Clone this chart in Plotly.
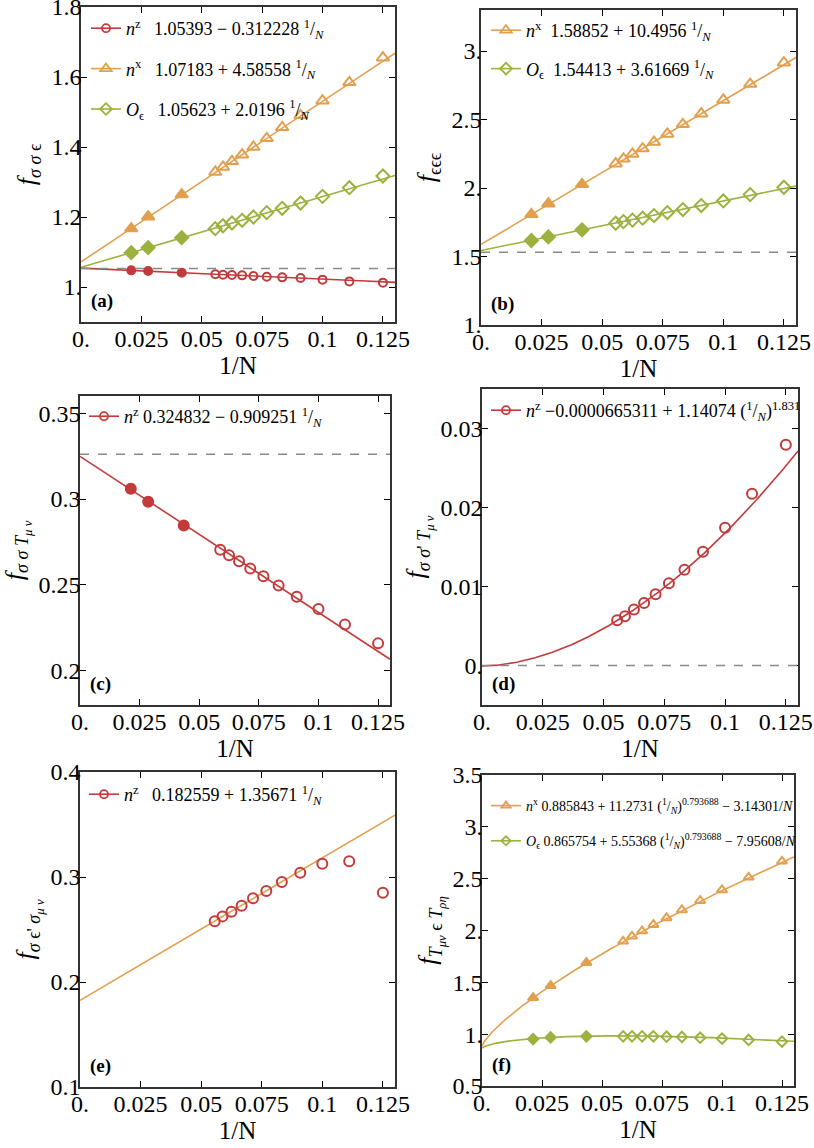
import numpy as np
import plotly.graph_objects as go

RED = "#c23b3c"
ORANGE = "#e2a04f"
GREEN = "#9bb23f"
FONT = "Liberation Serif, Times New Roman, Times, serif"

# 1/N positions
x_big = [0.0208, 0.0278, 0.0417]
x_small = [0.0556, 0.0588, 0.0625, 0.0667, 0.0714, 0.0769, 0.0833, 0.0909, 0.1, 0.1111, 0.125]
x_big_cf = [0.0213, 0.0286, 0.0435]
x_small_cf = [0.0588, 0.0625, 0.0667, 0.0714, 0.0769, 0.0833, 0.0909, 0.1, 0.1111, 0.125]

# (a) f_{sigma sigma eps}
a_nz_big = [1.0476, 1.0457, 1.041]
a_nz_small = [1.0362, 1.0352, 1.0343, 1.0333, 1.0314, 1.0295, 1.0276, 1.0257, 1.021, 1.016, 1.0124]
a_nx_big = [1.167, 1.201, 1.264]
a_nx_small = [1.3286, 1.3429, 1.359, 1.378, 1.4, 1.4248, 1.4562, 1.4905, 1.5324, 1.5848, 1.6552]
a_eps_big = [1.0981, 1.1124, 1.141]
a_eps_small = [1.1667, 1.175, 1.1829, 1.1905, 1.2, 1.2124, 1.2248, 1.24, 1.259, 1.2838, 1.3171]
a_fit_nz = [1.05393, -0.312228]
a_fit_nx = [1.07183, 4.58558]
a_fit_eps = [1.05623, 2.0196]
a_ref = 1.053

# (b) f_{eps eps eps}
b_nx_big = [1.808, 1.886, 2.027]
b_nx_small = [2.178, 2.213, 2.249, 2.288, 2.336, 2.395, 2.465, 2.543, 2.643, 2.759, 2.915]
b_eps_big = [1.617, 1.643, 1.695]
b_eps_small = [1.743, 1.755, 1.766, 1.78, 1.799, 1.821, 1.843, 1.872, 1.906, 1.952, 2.006]
b_fit_nx = [1.58852, 10.4956]
b_fit_eps = [1.54413, 3.61669]
b_ref = 1.532

# (c) f_{sigma sigma T}
c_nz_big = [0.306, 0.2984, 0.2845]
c_nz_small = [0.2705, 0.2672, 0.2638, 0.2595, 0.255, 0.2496, 0.243, 0.2359, 0.2269, 0.2159]
c_fit_nz = [0.324832, -0.909251]
c_ref = 0.326

# (d) f_{sigma sigma' T}
d_nz_small = [0.00573, 0.00624, 0.00708, 0.00792, 0.00902, 0.01041, 0.01213, 0.01441, 0.01744, 0.02174, 0.02794]
d_fit_nz = [-0.0000665311, 1.14074, 1.831]
d_ref = 0.0

# (e) f_{sigma eps' sigma}
e_nz_small = [0.2578, 0.2625, 0.267, 0.2727, 0.2797, 0.2867, 0.2952, 0.3041, 0.3127, 0.3149, 0.2851]
e_fit_nz = [0.182559, 1.35671]

# (f) f_{T eps T}
f_nx_big = [1.352, 1.468, 1.69]
f_nx_small = [1.896, 1.944, 1.995, 2.056, 2.121, 2.198, 2.288, 2.391, 2.513, 2.667]
f_eps_big = [0.953, 0.969, 0.979]
f_eps_small = [0.979, 0.979, 0.979, 0.979, 0.976, 0.973, 0.966, 0.957, 0.944, 0.928]
f_fit_nx = [0.885843, 11.2731, 0.793688, -3.14301]
f_fit_eps = [0.865754, 5.55368, 0.793688, -7.95608]

x_ticks = [0, 0.025, 0.05, 0.075, 0.1, 0.125]
x_ticktext = ["0.", "0.025", "0.05", "0.075", "0.1", "0.125"]
y_ticks = {
    1: ([1.0, 1.2, 1.4, 1.6, 1.8], ["1.", "1.2", "1.4", "1.6", "1.8"]),
    2: ([1.0, 1.5, 2.0, 2.5, 3.0], ["1.", "1.5", "2.", "2.5", "3."]),
    3: ([0.2, 0.25, 0.3, 0.35], ["0.2", "0.25", "0.3", "0.35"]),
    4: ([0.0, 0.01, 0.02, 0.03], ["0.", "0.01", "0.02", "0.03"]),
    5: ([0.1, 0.2, 0.3, 0.4], ["0.1", "0.2", "0.3", "0.4"]),
    6: ([0.5, 1.0, 1.5, 2.0, 2.5, 3.0, 3.5], ["0.5", "1.", "1.5", "2.", "2.5", "3.", "3.5"]),
}
y_ranges = {1: [0.9, 1.8], 2: [1.0, 3.3], 3: [0.18, 0.36], 4: [-0.005, 0.035], 5: [0.1, 0.4], 6: [0.5, 3.5]}
y_titles = {
    1: "<i>f</i><sub><i>σ σ</i> ϵ</sub>",
    2: "<i>f</i><sub>ϵϵϵ</sub>",
    3: "<i>f</i><sub><i>σ σ T</i><sub><i>μ ν</i></sub></sub>",
    4: "<i>f</i><sub><i>σ σ</i>' <i>T</i><sub><i>μ ν</i></sub></sub>",
    5: "<i>f</i><sub><i>σ</i> ϵ' <i>σ</i><sub><i>μ ν</i></sub></sub>",
    6: "<i>f</i><sub><i>T</i><sub><i>μν</i></sub> ϵ <i>T</i><sub><i>ρη</i></sub></sub>",
}
panel_tags = ["(a)", "(b)", "(c)", "(d)", "(e)", "(f)"]

# domains in paper fractions (W=814, H=1148)
W, H = 814, 1148
xdom = {1: (81, 395), 2: (481, 796), 3: (80, 390), 4: (482, 798), 5: (80, 395), 6: (482, 794)}
ydom = {1: (7, 322), 2: (10, 325), 3: (396, 705), 4: (389, 705), 5: (772, 1087), 6: (775, 1086)}

xf = np.linspace(0, 0.13, 400)

FRAC = "<sup>1</sup>/<sub><i>N</i></sub>"
SP = "\u00a0"

fig = go.Figure()


def ax(k):
    return ("x" if k == 1 else f"x{k}"), ("y" if k == 1 else f"y{k}")


def add_points(k, xs, ys, color, symbol, filled, size, lw=2):
    xa, ya = ax(k)
    fig.add_trace(go.Scatter(
        x=xs, y=ys, xaxis=xa, yaxis=ya, mode="markers", showlegend=False,
        marker=dict(symbol=symbol if filled else symbol + "-open", size=size, color=color,
                    line=dict(color=color, width=lw)),
        hoverinfo="skip"))


def add_fit(k, ys, color):
    xa, ya = ax(k)
    fig.add_trace(go.Scatter(x=xf, y=ys, xaxis=xa, yaxis=ya, mode="lines", showlegend=False,
                             line=dict(color=color, width=1.6), hoverinfo="skip"))


def add_key(k, name, color, symbol, size, group):
    xa, ya = ax(k)
    fig.add_trace(go.Scatter(
        x=[None], y=[None], xaxis=xa, yaxis=ya, mode="lines+markers", name=name,
        legend="legend" if k == 1 else f"legend{k}", legendgroup=group,
        line=dict(color=color, width=1.6),
        marker=dict(symbol=symbol + "-open", size=size, color=color, line=dict(color=color, width=1.8))))


# (a)
add_fit(1, a_fit_nz[0] + a_fit_nz[1] * xf, RED)
add_fit(1, a_fit_nx[0] + a_fit_nx[1] * xf, ORANGE)
add_fit(1, a_fit_eps[0] + a_fit_eps[1] * xf, GREEN)
add_points(1, x_big, a_nz_big, RED, "circle", True, 8)
add_points(1, x_small, a_nz_small, RED, "circle", False, 8)
add_points(1, x_big, a_nx_big, ORANGE, "triangle-up", True, 11)
add_points(1, x_small, a_nx_small, ORANGE, "triangle-up", False, 11)
add_points(1, x_big, a_eps_big, GREEN, "diamond", True, 10)
add_points(1, x_small, a_eps_small, GREEN, "diamond", False, 10)
add_key(1, "<i>n</i><sup>z</sup>" + SP * 3 + "1.05393 − 0.312228 " + FRAC, RED, "circle", 8, "a1")
add_key(1, "<i>n</i><sup>x</sup>" + SP * 3 + "1.07183 + 4.58558 " + FRAC, ORANGE, "triangle-up", 10, "a2")
add_key(1, "<i>O</i><sub>ϵ</sub>" + SP * 3 + "1.05623 + 2.0196 " + FRAC, GREEN, "diamond", 9, "a3")

# (b)
add_fit(2, b_fit_nx[0] + b_fit_nx[1] * xf, ORANGE)
add_fit(2, b_fit_eps[0] + b_fit_eps[1] * xf, GREEN)
add_points(2, x_big, b_nx_big, ORANGE, "triangle-up", True, 11)
add_points(2, x_small, b_nx_small, ORANGE, "triangle-up", False, 11)
add_points(2, x_big, b_eps_big, GREEN, "diamond", True, 10)
add_points(2, x_small, b_eps_small, GREEN, "diamond", False, 10)
add_key(2, "<i>n</i><sup>x</sup>" + SP * 2 + "1.58852 + 10.4956 " + FRAC, ORANGE, "triangle-up", 10, "b1")
add_key(2, "<i>O</i><sub>ϵ</sub>" + SP * 2 + "1.54413 + 3.61669 " + FRAC, GREEN, "diamond", 9, "b2")

# (c)
add_fit(3, c_fit_nz[0] + c_fit_nz[1] * xf, RED)
add_points(3, x_big_cf, c_nz_big, RED, "circle", True, 10)
add_points(3, x_small_cf, c_nz_small, RED, "circle", False, 10)
add_key(3, "<i>n</i><sup>z</sup>" + SP + "0.324832 − 0.909251 " + FRAC, RED, "circle", 8, "c1")

# (d)
add_fit(4, d_fit_nz[0] + d_fit_nz[1] * xf ** d_fit_nz[2], RED)
add_points(4, x_small, d_nz_small, RED, "circle", False, 10)
add_key(4, "<i>n</i><sup>z</sup> −0.0000665311 + 1.14074 (" + FRAC + ")<sup>1.831</sup>", RED, "circle", 8, "d1")

# (e)
add_fit(5, e_fit_nz[0] + e_fit_nz[1] * xf, ORANGE)
add_points(5, x_small, e_nz_small, RED, "circle", False, 10)
add_key(5, "<i>n</i><sup>z</sup>" + SP * 3 + "0.182559 + 1.35671 " + FRAC, RED, "circle", 8, "e1")

# (f)
add_fit(6, f_fit_nx[0] + f_fit_nx[1] * xf ** f_fit_nx[2] + f_fit_nx[3] * xf, ORANGE)
add_fit(6, f_fit_eps[0] + f_fit_eps[1] * xf ** f_fit_eps[2] + f_fit_eps[3] * xf, GREEN)
add_points(6, x_big_cf, f_nx_big, ORANGE, "triangle-up", True, 9)
add_points(6, x_small_cf, f_nx_small, ORANGE, "triangle-up", False, 9)
add_points(6, x_big_cf, f_eps_big, GREEN, "diamond", True, 8)
add_points(6, x_small_cf, f_eps_small, GREEN, "diamond", False, 8)
add_key(6, "<i>n</i><sup>x</sup> 0.885843 + 11.2731 (" + FRAC + ")<sup>0.793688</sup> − 3.14301/<i>N</i>",
        ORANGE, "triangle-up", 8, "f1")
add_key(6, "<i>O</i><sub>ϵ</sub> 0.865754 + 5.55368 (" + FRAC + ")<sup>0.793688</sup> − 7.95608/<i>N</i>",
        GREEN, "diamond", 7, "f2")

# reference dashed lines
for k, v in [(1, a_ref), (2, b_ref), (3, c_ref), (4, d_ref)]:
    xa, ya = ax(k)
    fig.add_shape(type="line", xref=f"{xa} domain", x0=0, x1=1, yref=ya, y0=v, y1=v,
                  line=dict(color="#8a8a8a", width=1.5, dash="dash"))

layout = dict(
    width=W, height=H, margin=dict(l=0, r=0, t=0, b=0, autoexpand=False),
    paper_bgcolor="white", plot_bgcolor="white",
    font=dict(family=FONT, color="black", size=24),
)

legend_pos = {1: (86, 10, 18, 14), 2: (486, 12, 18, 12), 3: (84, 398, 18, 0),
              4: (486, 392, 18, 0), 5: (84, 776, 18, 0), 6: (486, 790, 14, 14)}

for k in range(1, 7):
    xs = "" if k == 1 else str(k)
    x0, x1 = xdom[k]
    y0, y1 = ydom[k]
    layout[f"xaxis{xs}"] = dict(
        domain=[x0 / W, x1 / W], anchor=f"y{xs}", range=[0, 0.13], automargin=False,
        tickvals=x_ticks, ticktext=x_ticktext, ticks="inside", ticklen=6, tickwidth=1.3,
        tickcolor="black", showline=True, linecolor="#333", linewidth=1.5, mirror="ticks",
        showgrid=False, zeroline=False, tickfont=dict(size=24, family=FONT),
        ticklabeloverflow="allow", ticklabelstandoff=-6,
        title=dict(text="1/N", font=dict(size=25, family=FONT), standoff=2))
    yv, yt = y_ticks[k]
    layout[f"yaxis{xs}"] = dict(
        domain=[1 - y1 / H, 1 - y0 / H], anchor=f"x{xs}", range=y_ranges[k], automargin=False,
        tickvals=yv, ticktext=yt, ticks="inside", ticklen=6, tickwidth=1.3,
        tickcolor="black", showline=True, linecolor="#333", linewidth=1.5, mirror="ticks",
        showgrid=False, zeroline=False, tickfont=dict(size=24, family=FONT),
        ticklabeloverflow="allow", ticklabelstandoff=-7,
        title=dict(text=y_titles[k], font=dict(size=26, family=FONT), standoff=8))
    lx, ly, lfs, gap = legend_pos[k]
    layout["legend" if k == 1 else f"legend{k}"] = dict(
        x=lx / W, y=1 - ly / H, xanchor="left", yanchor="top", bgcolor="rgba(0,0,0,0)",
        font=dict(size=lfs, family=FONT), tracegroupgap=gap, itemwidth=30,
        traceorder="grouped")

fig.update_layout(**layout)

for k, tag in enumerate(panel_tags, start=1):
    xa, ya = ax(k)
    fig.add_annotation(text=f"<b>{tag}</b>", xref=f"{xa} domain", yref=f"{ya} domain",
                       x=0.025, y=0.025, xanchor="left", yanchor="bottom", showarrow=False,
                       font=dict(size=19, family=FONT))

# drop the default page margin so the figure sits at the window's corner
fig.write_html("out.html", config={"displayModeBar": False},
               post_script="document.body.style.margin='0';")
